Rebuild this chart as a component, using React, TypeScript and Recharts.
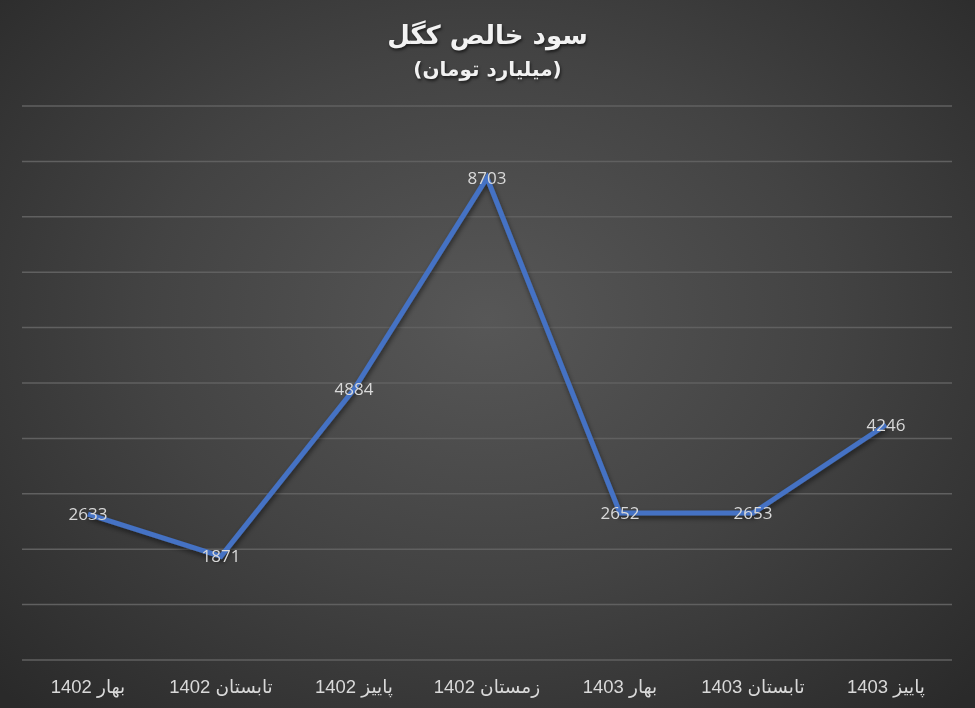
import { LineChart, Line, XAxis, YAxis, CartesianGrid, LabelList } from "recharts";

const seasons = ["بهار 1402", "تابستان 1402", "پاییز 1402", "زمستان 1402", "بهار 1403", "تابستان 1403", "پاییز 1403"];
const netProfit = [2633, 1871, 4884, 8703, 2652, 2653, 4246];
const yTicks = [0, 1000, 2000, 3000, 4000, 5000, 6000, 7000, 8000, 9000, 10000];

const data = seasons.map((s, i) => ({ season: s, profit: netProfit[i] }));

function SeasonTick(props: any) {
  const { x, y, payload } = props;
  return (
    <text x={x} y={y + 31} textAnchor="middle" fill="#d9d9d9" fontSize={18.5} fontFamily="Liberation Sans, DejaVu Sans, sans-serif">
      {payload.value}
    </text>
  );
}

function ValueLabel(props: any) {
  const { x, y, value } = props;
  return (
    <text x={x} y={y + 6} textAnchor="middle" fill="#d9d9d9" fontSize={17} fontFamily="Open Sans, sans-serif">
      {value}
    </text>
  );
}

export default function App() {
  return (
    <div
      style={{
        position: "fixed",
        left: 0,
        top: 0,
        width: 975,
        height: 708,
        background: "radial-gradient(ellipse 70% 75% at 50% 45%, #575757 0%, #434343 50%, #2a2a2a 100%)",
        fontFamily: "DejaVu Sans, sans-serif",
      }}
    >
      <div
        style={{
          position: "absolute",
          top: 20,
          width: "100%",
          textAlign: "center",
          color: "#f2f2f2",
          fontWeight: "bold",
          fontSize: 26,
          direction: "rtl",
          textShadow: "1px 2px 3px rgba(0,0,0,0.6)",
        }}
      >
        سود خالص کگل
      </div>
      <div
        style={{
          position: "absolute",
          top: 57,
          width: "100%",
          textAlign: "center",
          color: "#f2f2f2",
          fontWeight: "bold",
          fontSize: 20,
          direction: "rtl",
          textShadow: "1px 2px 3px rgba(0,0,0,0.6)",
        }}
      >
        (میلیارد تومان)
      </div>
      <LineChart
        width={975}
        height={708}
        data={data}
        margin={{ top: 106, right: 23, bottom: 8, left: 22 }}
        style={{ position: "absolute", left: 0, top: 0 }}
      >
        <defs>
          <filter id="lineShadow" x="-10%" y="-10%" width="120%" height="130%">
            <feDropShadow dx="1" dy="3" stdDeviation="2.5" floodColor="#000" floodOpacity="0.5" />
          </filter>
        </defs>
        <CartesianGrid vertical={false} stroke="#606060" strokeWidth={1.5} />
        <XAxis
          dataKey="season"
          height={40}
          axisLine={false}
          tickLine={false}
          tickSize={0}
          padding={{ left: 66, right: 66 }}
          tick={<SeasonTick />}
          interval={0}
        />
        <YAxis hide domain={[0, 10000]} ticks={yTicks} />
        <Line
          type="linear"
          dataKey="profit"
          stroke="#4472c4"
          strokeWidth={5}
          dot={false}
          filter="url(#lineShadow)"
          isAnimationActive={false}
        >
          <LabelList dataKey="profit" content={<ValueLabel />} />
        </Line>
      </LineChart>
    </div>
  );
}
